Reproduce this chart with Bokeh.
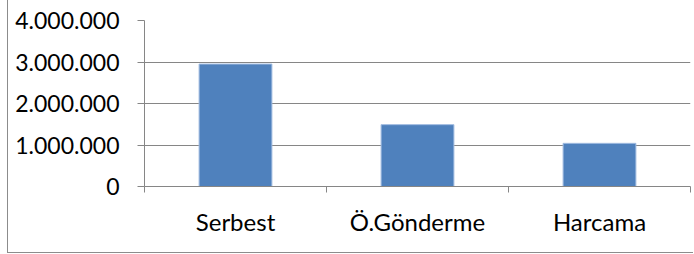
from bokeh.plotting import figure
from bokeh.models import FixedTicker, CustomJSTickFormatter, Range1d
from bokeh.embed import file_html
from bokeh.resources import INLINE

categories = ["Serbest", "Ö.Gönderme", "Harcama"]
values = [2950000, 1490000, 1040000]
y_ticks = [0, 1000000, 2000000, 3000000, 4000000]

xs = [i + 0.5 for i in range(len(categories))]
bounds = list(range(len(categories) + 1))

p = figure(width=686, height=253, output_backend="svg", toolbar_location=None,
           x_range=Range1d(0, len(categories)), y_range=Range1d(0, 4000000),
           min_border_left=136, min_border_top=20, min_border_right=4, min_border_bottom=67)
p.styles = {"margin-left": "7px", "border-left": "1px solid #8c8c8c",
            "border-bottom": "1px solid #8c8c8c"}
p.outline_line_color = None
p.background_fill_color = "white"
p.border_fill_color = "white"

p.vbar(x=xs, top=values, width=0.4, fill_color="#4F81BD", line_color="#9fbbe0", line_width=1)

font = "Lato"
gray = "#868686"

# x axis
xt = FixedTicker(ticks=xs, minor_ticks=bounds)
p.xaxis.ticker = xt
p.xaxis.major_label_overrides = {x: c for x, c in zip(xs, categories)}
p.xaxis.major_tick_out = 0
p.xaxis.major_tick_in = 0
p.xaxis.minor_tick_out = 6
p.xaxis.minor_tick_in = 0
p.xaxis.minor_tick_line_color = gray
p.xaxis.axis_line_color = gray
p.xaxis.major_label_text_font = font
p.xaxis.major_label_text_font_size = "24px"
p.xaxis.major_label_text_color = "black"
p.xaxis.major_label_standoff = 14
p.xgrid.grid_line_color = None

# y axis
p.yaxis.ticker = FixedTicker(ticks=y_ticks, minor_ticks=[])
p.yaxis.formatter = CustomJSTickFormatter(code="""
return Math.round(tick).toString().replace(/\\B(?=(\\d{3})+(?!\\d))/g, ".");
""")
p.yaxis.major_tick_out = 7
p.yaxis.major_tick_in = 0
p.yaxis.major_tick_line_color = gray
p.yaxis.axis_line_color = gray
p.yaxis.major_label_text_font = font
p.yaxis.major_label_text_font_size = "23px"
p.yaxis.major_label_text_color = "black"
p.yaxis.major_label_standoff = 18
p.ygrid.grid_line_color = gray
p.ygrid.ticker = FixedTicker(ticks=y_ticks)

open("out.html", "w").write(file_html(p, INLINE))
